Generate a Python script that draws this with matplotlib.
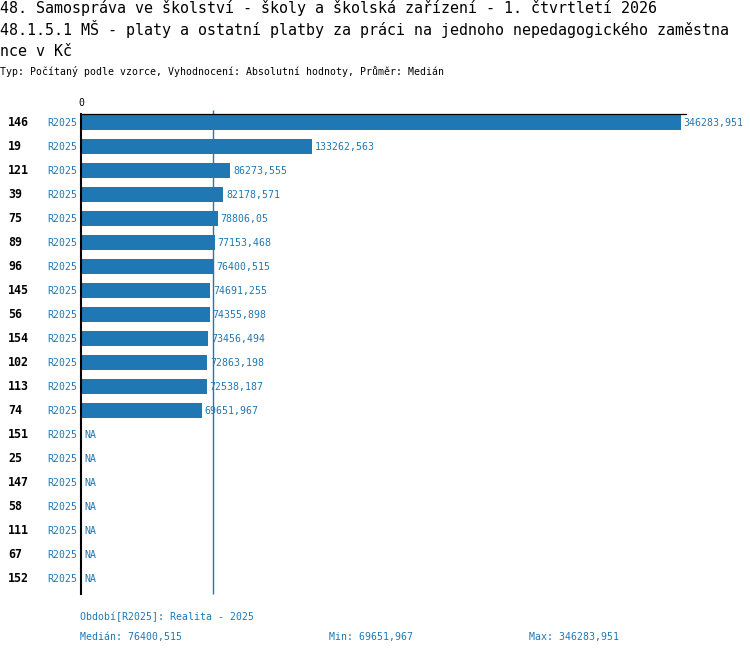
import numpy as np
import matplotlib
matplotlib.use("Agg")
import matplotlib.pyplot as plt
import matplotlib.transforms as mtransforms

plt.rcParams['font.family'] = ['DejaVu Sans Mono', 'DejaVu Sans']

# data
ids = ['146', '19', '121', '39', '75', '89', '96', '145', '56', '154',
       '102', '113', '74', '151', '25', '147', '58', '111', '67', '152']
values = [346283.951, 133262.563, 86273.555, 82178.571, 78806.05, 77153.468,
          76400.515, 74691.255, 74355.898, 73456.494, 72863.198, 72538.187,
          69651.967, np.nan, np.nan, np.nan, np.nan, np.nan, np.nan, np.nan]
period = 'R2025'
title_lines = ['48. Samospráva ve školství - školy a školská zařízení - 1. čtvrtletí 2026',
               '48.1.5.1 MŠ - platy a ostatní platby za práci na jednoho nepedagogického zaměstna',
               'nce v Kč']
subtitle = 'Typ: Počítaný podle vzorce, Vyhodnocení: Absolutní hodnoty, Průměr: Medián'
legend_period = 'Období[R2025]: Realita - 2025'

BLUE = '#1f77b4'
W, H = 750, 654
vals = np.array(values, dtype=float)
med = np.nanmedian(vals)
vmin = np.nanmin(vals)
vmax = np.nanmax(vals)


def fmt(v):
    return str(v).replace('.', ',')


def fx(px):
    return px / W


def fy(py):
    return 1 - py / H


fig = plt.figure(figsize=(W / 100, H / 100), dpi=100)
ax_left, ax_right, ax_top, ax_bot = 81, 686, 114.3, 594
ax = fig.add_axes([fx(ax_left), fy(ax_bot), (ax_right - ax_left) / W, (ax_bot - ax_top) / H])

n = len(ids)
y = np.arange(n)
ok = ~np.isnan(vals)
ax.barh(y[ok], vals[ok], height=0.62, color=BLUE, zorder=2)

ax.set_xlim(0, vmax * (ax_right - ax_left) / (681 - ax_left))
ax.set_ylim(n - 1 + 0.64, -0.35)
for s in ['right', 'bottom']:
    ax.spines[s].set_visible(False)
ax.spines['top'].set_linewidth(0.9)
ax.spines['left'].set_linewidth(1.5)
ax.spines['top'].set_zorder(3)
ax.set_xticks([])
ax.set_yticks([])

# median line
ax.plot([med, med], [-0.55, n - 1 + 0.64], color=BLUE, lw=1.0, clip_on=False,
        zorder=1, solid_capstyle='butt')

small = 7.15
lab_tr = mtransforms.blended_transform_factory(fig.transFigure, ax.transData)
for i in range(n):
    ax.text(fx(8), i, ids[i], transform=lab_tr, ha='left', va='center',
            fontsize=8.4, fontweight='bold', color='black')
    ax.annotate(period, xy=(0, i), xytext=(-3, 0), textcoords='offset points',
                ha='right', va='center', fontsize=small, color=BLUE)
    if ok[i]:
        ax.annotate(fmt(values[i]), xy=(vals[i], i), xytext=(2, 0), textcoords='offset points',
                    ha='left', va='center', fontsize=small, color=BLUE)
    else:
        ax.annotate('NA', xy=(0, i), xytext=(2.3, 0), textcoords='offset points',
                    ha='left', va='center', fontsize=small, color=BLUE)

fig.text(fx(81), fy(106), '0', ha='center', va='baseline', fontsize=small, color='black')

# titles
for k, line in enumerate(title_lines):
    fig.text(fx(0), fy(13.3 + 21.3 * k), line, ha='left', va='baseline', fontsize=10.85)
fig.text(fx(0), fy(75), subtitle, ha='left', va='baseline', fontsize=small)

# footer
fig.text(fx(80), fy(620), legend_period, ha='left', va='baseline', fontsize=small, color=BLUE)
fig.text(fx(80), fy(640), 'Medián: ' + fmt(med), ha='left', va='baseline', fontsize=small, color=BLUE)
fig.text(fx(329.3), fy(640), 'Min: ' + fmt(vmin), ha='left', va='baseline', fontsize=small, color=BLUE)
fig.text(fx(529.3), fy(640), 'Max: ' + fmt(vmax), ha='left', va='baseline', fontsize=small, color=BLUE)

fig.savefig('out.png', dpi=100)
